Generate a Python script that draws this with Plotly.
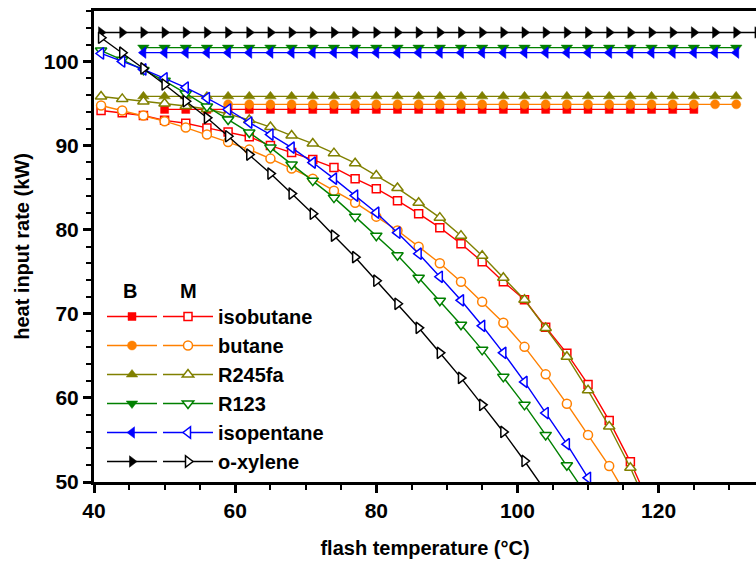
import plotly.graph_objects as go

# ---------------- data ----------------
# "B" series (filled symbols, horizontal)
T_B_isobutane = [50, 53, 56, 59, 62, 65, 68, 71, 74, 77, 80, 83, 86, 89, 92, 95, 98, 101, 104, 107, 110, 113, 116, 119, 122, 125]
Q_B_isobutane = [94.3, 94.3, 94.3, 94.3, 94.3, 94.3, 94.3, 94.3, 94.3, 94.3, 94.3, 94.3, 94.3, 94.3, 94.3, 94.3, 94.3, 94.3, 94.3, 94.3, 94.3, 94.3, 94.3, 94.3, 94.3, 94.3]

T_B_butane = [59, 62, 65, 68, 71, 74, 77, 80, 83, 86, 89, 92, 95, 98, 101, 104, 107, 110, 113, 116, 119, 122, 125, 128, 131]
Q_B_butane = [94.9, 94.9, 94.9, 94.9, 94.9, 94.9, 94.9, 94.9, 94.9, 94.9, 94.9, 94.9, 94.9, 94.9, 94.9, 94.9, 94.9, 94.9, 94.9, 94.9, 94.9, 94.9, 94.9, 94.9, 94.9]

T_B_R245fa = [47, 50, 53, 56, 59, 62, 65, 68, 71, 74, 77, 80, 83, 86, 89, 92, 95, 98, 101, 104, 107, 110, 113, 116, 119, 122, 125, 128, 131]
Q_B_R245fa = [95.85, 95.85, 95.85, 95.85, 95.85, 95.85, 95.85, 95.85, 95.85, 95.85, 95.85, 95.85, 95.85, 95.85, 95.85, 95.85, 95.85, 95.85, 95.85, 95.85, 95.85, 95.85, 95.85, 95.85, 95.85, 95.85, 95.85, 95.85, 95.85]

T_B_R123 = [47, 50, 53, 56, 59, 62, 65, 68, 71, 74, 77, 80, 83, 86, 89, 92, 95, 98, 101, 104, 107, 110, 113, 116, 119, 122, 125, 128, 131]
Q_B_R123 = [101.65, 101.65, 101.65, 101.65, 101.65, 101.65, 101.65, 101.65, 101.65, 101.65, 101.65, 101.65, 101.65, 101.65, 101.65, 101.65, 101.65, 101.65, 101.65, 101.65, 101.65, 101.65, 101.65, 101.65, 101.65, 101.65, 101.65, 101.65, 101.65]

T_B_isopentane = [47, 50, 53, 56, 59, 62, 65, 68, 71, 74, 77, 80, 83, 86, 89, 92, 95, 98, 101, 104, 107, 110, 113, 116, 119, 122, 125, 128, 131]
Q_B_isopentane = [101.05, 101.05, 101.05, 101.05, 101.05, 101.05, 101.05, 101.05, 101.05, 101.05, 101.05, 101.05, 101.05, 101.05, 101.05, 101.05, 101.05, 101.05, 101.05, 101.05, 101.05, 101.05, 101.05, 101.05, 101.05, 101.05, 101.05, 101.05, 101.05]

T_B_oxylene = [41, 44, 47, 50, 53, 56, 59, 62, 65, 68, 71, 74, 77, 80, 83, 86, 89, 92, 95, 98, 101, 104, 107, 110, 113, 116, 119, 122, 125, 128, 131, 134]
Q_B_oxylene = [103.45, 103.45, 103.45, 103.45, 103.45, 103.45, 103.45, 103.45, 103.45, 103.45, 103.45, 103.45, 103.45, 103.45, 103.45, 103.45, 103.45, 103.45, 103.45, 103.45, 103.45, 103.45, 103.45, 103.45, 103.45, 103.45, 103.45, 103.45, 103.45, 103.45, 103.45, 103.45]

# "M" series (open symbols, decreasing)
T_M_isobutane = [41, 44, 47, 50, 53, 56, 59, 62, 65, 68, 71, 74, 77, 80, 83, 86, 89, 92, 95, 98, 101, 104, 107, 110, 113, 116, 119]
Q_M_isobutane = [94.17, 93.9, 93.57, 93.0, 92.65, 92.1, 91.6, 91.05, 90.0, 89.17, 88.33, 87.38, 86.07, 84.88, 83.45, 81.9, 80.24, 78.33, 76.19, 73.81, 71.67, 68.4, 65.3, 61.6, 57.3, 52.4, 46.8]

T_M_butane = [41, 44, 47, 50, 53, 56, 59, 62, 65, 68, 71, 74, 77, 80, 83, 86, 89, 92, 95, 98, 101, 104, 107, 110, 113, 116]
Q_M_butane = [94.76, 94.17, 93.57, 92.9, 92.14, 91.31, 90.42, 89.52, 88.45, 87.26, 86.07, 84.64, 83.21, 81.55, 79.9, 77.98, 76.0, 73.81, 71.43, 68.93, 66.07, 62.8, 59.3, 55.6, 51.9, 47.6]

T_M_R245fa = [41, 44, 47, 50, 53, 56, 59, 62, 65, 68, 71, 74, 77, 80, 83, 86, 89, 92, 95, 98, 101, 104, 107, 110, 113, 116, 119]
Q_M_R245fa = [95.83, 95.55, 95.25, 95.0, 94.7, 94.35, 93.75, 93.05, 92.2, 91.19, 90.24, 89.1, 87.9, 86.43, 84.95, 83.21, 81.43, 79.29, 76.9, 74.29, 71.67, 68.3, 64.9, 60.9, 56.6, 51.7, 46.0]

T_M_R123 = [41, 44, 47, 50, 53, 56, 59, 62, 65, 68, 71, 74, 77, 80, 83, 86, 89, 92, 95, 98, 101, 104, 107, 110]
Q_M_R123 = [101.3, 100.2, 99.0, 97.7, 96.2, 94.64, 93.1, 91.55, 89.76, 87.74, 85.83, 83.81, 81.55, 79.29, 76.95, 74.29, 71.55, 68.69, 65.71, 62.5, 59.17, 55.6, 52.0, 48.2]

T_M_isopentane = [41, 44, 47, 50, 53, 56, 59, 62, 65, 68, 71, 74, 77, 80, 83, 86, 89, 92, 95, 98, 101, 104, 107, 110]
Q_M_isopentane = [100.95, 100.0, 99.05, 98.0, 96.9, 95.65, 94.29, 92.74, 91.31, 89.76, 87.98, 86.07, 84.05, 82.02, 79.64, 77.14, 74.4, 71.6, 68.57, 65.36, 61.9, 58.2, 54.5, 50.5]

T_M_oxylene = [41, 44, 47, 50, 53, 56, 59, 62, 65, 68, 71, 74, 77, 80, 83, 86, 89, 92, 95, 98, 101, 104]
Q_M_oxylene = [102.82, 101.04, 99.17, 97.26, 95.27, 93.3, 91.11, 88.93, 86.67, 84.29, 81.9, 79.29, 76.73, 73.93, 71.19, 68.33, 65.36, 62.38, 59.17, 55.95, 52.5, 48.9]

names = ["isobutane", "butane", "R245fa", "R123", "isopentane", "o-xylene"]
colors = ["#FF0000", "#FF8000", "#808000", "#008000", "#0000FF", "#000000"]
symbols = ["square", "circle", "triangle-up", "triangle-down", "triangle-left", "triangle-right"]
sizes = [8, 9, 10, 10, 10, 10]

B_data = [(T_B_isobutane, Q_B_isobutane), (T_B_butane, Q_B_butane), (T_B_R245fa, Q_B_R245fa),
          (T_B_R123, Q_B_R123), (T_B_isopentane, Q_B_isopentane), (T_B_oxylene, Q_B_oxylene)]
M_data = [(T_M_isobutane, Q_M_isobutane), (T_M_butane, Q_M_butane), (T_M_R245fa, Q_M_R245fa),
          (T_M_R123, Q_M_R123), (T_M_isopentane, Q_M_isopentane), (T_M_oxylene, Q_M_oxylene)]

FONT = "Liberation Sans, Arial, sans-serif"
W, H = 756, 565
ML, MR, MT, MB = 94, 0, 11, 83

fig = go.Figure()

for i in range(6):
    t, q = B_data[i]
    fig.add_trace(go.Scatter(
        x=t, y=q, mode="lines+markers", name="\u00a0",
        legend="legend", legendgroup="B%d" % i,
        line=dict(color=colors[i], width=1.4),
        marker=dict(symbol=symbols[i], size=sizes[i], color=colors[i],
                    line=dict(color=colors[i], width=0.5)),
    ))

for i in range(6):
    t, q = M_data[i]
    fig.add_trace(go.Scatter(
        x=t, y=q, mode="lines+markers", name=names[i],
        legend="legend2", legendgroup="M%d" % i,
        line=dict(color=colors[i], width=1.4),
        marker=dict(symbol=symbols[i], size=sizes[i], color="white",
                    line=dict(color=colors[i], width=1.5)),
    ))

pw = W - ML - MR
ph = H - MT - MB


def px_x(p):
    return (p - ML) / pw


def px_y(p):
    return (H - MB - p) / ph


axis_font = dict(family=FONT, size=21, color="black", weight="bold")
title_font = dict(family=FONT, size=20, color="black", weight="bold")
leg_font = dict(family=FONT, size=20, color="black", weight="bold")

fig.update_layout(
    width=W, height=H,
    margin=dict(l=ML, r=MR, t=MT, b=MB),
    paper_bgcolor="white", plot_bgcolor="white",
    showlegend=True,
    font=dict(family=FONT, size=20, color="black"),
    xaxis=dict(
        range=[40, 133.8], tickmode="linear", tick0=40, dtick=20,
        showgrid=False, zeroline=False,
        showline=True, linewidth=3, linecolor="black", mirror=True,
        ticks="outside", ticklen=8, tickwidth=2.5, tickcolor="black",
        minor=dict(dtick=5, tick0=40, ticks="outside", ticklen=5, tickwidth=2, tickcolor="black"),
        tickfont=axis_font,
        title=dict(text="flash temperature (\u00b0C)", font=title_font, standoff=20),
    ),
    yaxis=dict(
        range=[50, 106], tickmode="linear", tick0=50, dtick=10,
        showgrid=False, zeroline=False,
        showline=True, linewidth=3, linecolor="black", mirror=False,
        ticks="outside", ticklen=8, tickwidth=2.5, tickcolor="black",
        minor=dict(dtick=2, tick0=50, ticks="outside", ticklen=5, tickwidth=2, tickcolor="black"),
        tickfont=axis_font,
        title=dict(text="heat input rate (kW)", font=title_font, standoff=9),
    ),
    legend=dict(
        x=px_x(102), y=px_y(297), xanchor="left", yanchor="top",
        bgcolor="rgba(0,0,0,0)", borderwidth=0,
        font=leg_font,
        tracegroupgap=2, itemwidth=50, traceorder="normal",
    ),
    legend2=dict(
        x=px_x(158), y=px_y(297), xanchor="left", yanchor="top",
        bgcolor="rgba(0,0,0,0)", borderwidth=0,
        font=leg_font,
        tracegroupgap=2, itemwidth=50, traceorder="normal",
    ),
    annotations=[
        dict(text="B", x=px_x(130), y=px_y(291), xref="paper", yref="paper",
             xanchor="center", yanchor="middle",
             showarrow=False, font=leg_font),
        dict(text="M", x=px_x(188), y=px_y(291), xref="paper", yref="paper",
             xanchor="center", yanchor="middle",
             showarrow=False, font=leg_font),
    ],
)

fig.write_html("out.html")
